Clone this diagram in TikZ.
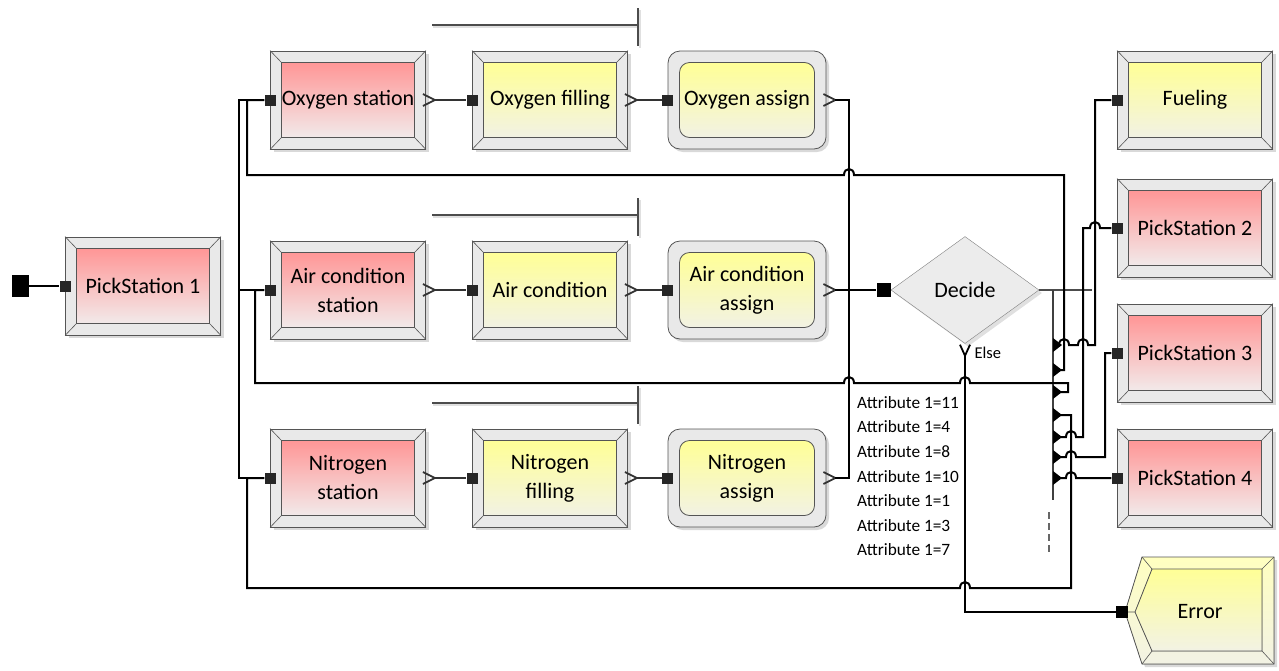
\documentclass[tikz,border=0pt]{standalone}
\usepackage{fontspec}
\setmainfont{Carlito}
\usetikzlibrary{shapes.geometric,shadows}
\definecolor{pinktop}{RGB}{255,150,150}
\definecolor{pinkbot}{RGB}{242,234,234}
\definecolor{yeltop}{RGB}{255,255,150}
\definecolor{yelbot}{RGB}{242,242,228}
\definecolor{frame}{RGB}{85,85,85}

\begin{document}
\begin{tikzpicture}[x=1pt, y=-1pt, font=\fontsize{22}{29}\selectfont,
  outerbox/.style={draw=frame, fill=gray!17, line width=0.8pt, minimum width=155pt, minimum height=98pt, inner sep=0pt,
    drop shadow={shadow xshift=3pt, shadow yshift=-3pt, fill=black!15, opacity=1}},
  innerbox/.style={draw=frame, line width=0.8pt, minimum width=133pt, minimum height=75pt, inner sep=0pt, align=center},
  pinkfill/.style={top color=pinktop, bottom color=pinkbot},
  yelfill/.style={top color=yeltop, bottom color=yelbot},
  bevel/.style={draw=frame, line width=0.6pt},
  entry/.style={fill=black!85, minimum size=11pt, inner sep=0pt},
  link/.style={line width=2pt},
  chev/.style={draw=black!80, line width=1.8pt},
  queue/.style={draw=black!70, line width=1.6pt}]
\useasboundingbox (0,0) rectangle (1279,670);

% modules with bevel
\foreach \nm/\cx/\cy/\col/\txt in {pka/143/286/pinkfill/PickStation 1, oxst/348/100/pinkfill/Oxygen station,
  oxfl/550/100/yelfill/Oxygen filling, acst/348/290/pinkfill/{Air condition\\station}, acfl/550/290/yelfill/Air condition,
  nist/348/478/pinkfill/{Nitrogen\\station}, nifl/550/478/yelfill/{Nitrogen\\filling}, fuel/1195/100/yelfill/Fueling,
  pkb/1195/228/pinkfill/PickStation 2, pkc/1195/353/pinkfill/PickStation 3, pkd/1195/478/pinkfill/PickStation 4}
{\node[outerbox] (\nm-o) at (\cx,\cy) {};
 \node[innerbox,\col] (\nm) at (\cx,\cy) {\txt};
 \foreach \a in {north west,north east,south east,south west}
   \draw[bevel] (\nm-o.\a) -- (\nm.\a);
 \node[entry] (\nm-in) at (\nm-o.west) {};}

% assign modules
\foreach \nm/\cy/\txt in {oxas/100/Oxygen assign, acas/290/{Air condition\\assign}, nias/478/{Nitrogen\\assign}}
{\node[outerbox, rounded corners=12pt, minimum width=158pt] (\nm-o) at (747,\cy) {};
 \node[innerbox, yelfill, rounded corners=10pt, minimum width=135pt] (\nm) at (747,\cy) {\txt};
 \node[entry] (\nm-in) at (\nm-o.west) {};}

% exits
\foreach \nm in {oxst,oxfl,oxas,acst,acfl,acas,nist,nifl,nias}
{\draw[chev] ([shift={(-3,-6)}]\nm-o.east) -- ([shift={(9,0)}]\nm-o.east) coordinate (\nm-out)
   -- ([shift={(-3,6)}]\nm-o.east);}

% queues
\foreach \cy in {100,290,478}
{\draw[black!12, line width=1.6pt] (433,\cy-73) -- (640,\cy-73) (640,\cy-90) -- (640,\cy-52);
 \draw[queue] (432,\cy-75) -- (638,\cy-75) (638,\cy-92) -- (638,\cy-54);}

\node[fill=black, minimum width=17pt, minimum height=22pt, inner sep=0pt] (src) at (20,286) {};
\draw[link] (src) -- (pka-in.west);

\draw[link, black!80] (oxst-out) -- (oxfl-in.west) (oxfl-out) -- (oxas-in.west)
  (acst-out) -- (acfl-in.west) (acfl-out) -- (acas-in.west)
  (nist-out) -- (nifl-in.west) (nifl-out) -- (nias-in.west);

\coordinate (split) at (239,290);
\draw[link] (oxst-in.west) -| (split) |- (nist-in.west) (split) -- (acst-in.west);

% decide
\node[diamond, draw=gray, fill=gray!15, minimum width=148pt, minimum height=107pt, inner sep=0pt,
  drop shadow={shadow xshift=3pt, shadow yshift=-3pt, fill=black!12, opacity=1}] (dec) at (965,290) {Decide};
\node[fill=black, minimum size=14pt, inner sep=0pt, anchor=east] (dec-in) at (dec.west) {};
\draw[chev, black] ([shift={(-5,1)}]dec.south) -- ([shift={(0,12)}]dec.south) coordinate (dec-else) -- ([shift={(5,1)}]dec.south);
\node[font=\fontsize{16.5}{18}\selectfont, anchor=west] (else) at ([shift={(6,9)}]dec.south) {Else};

\draw[link] (acas-out) -- (dec-in.west);
\draw[link] (oxas-out) -| (849,290);
\draw[link] (nias-out) -| (849,290);

\node[font=\fontsize{17.3}{24.6}\selectfont, align=left, anchor=north west, inner sep=0pt] (attr) at (857,396)
  {Attribute 1=11\\Attribute 1=4\\Attribute 1=8\\Attribute 1=10\\Attribute 1=1\\Attribute 1=3\\Attribute 1=7};

% exit stack
\draw[black!70, line width=1.2pt] (dec.east) -- (1092,290);
\draw[black!75, line width=1.4pt] (1053,290) -- (1053,500);
\draw[black!60, line width=1.4pt, dash pattern=on 7pt off 4pt] (1049,512) -- (1049,552);
\foreach \y [count=\i] in {345,370,392,415,437,457,478}
  \coordinate (ex\i) at (1056,\y);

% routes
\draw[link] (ex1) -- (1059,345) .. controls (1059,337) and (1069,337) .. (1069,345) -- (1078,345)
  .. controls (1078,337) and (1088,337) .. (1088,345) -- (1095,345) |- (fuel-in.west);
\draw[link] (ex2) -| (1064,175) -- (854,175) .. controls (854,167) and (844,167) .. (844,175)
  -- (247,175) |- (oxst-in.west);
\draw[link] (ex3) -| (1068,383) -- (970,383) .. controls (970,375) and (960,375) .. (960,383)
  -- (854,383) .. controls (854,375) and (844,375) .. (844,383) -- (255,383) |- (acst-in.west);
\draw[link] (ex4) -| (1071,588) -- (970,588) .. controls (970,580) and (960,580) .. (960,588)
  -- (247,588) |- (nist-in.west);
\draw[link] (ex5) -- (1066,437) .. controls (1066,429) and (1076,429) .. (1076,437) -- (1083,437)
  -- (1083,228) -- (1090,228) .. controls (1090,220) and (1100,220) .. (1100,228) -- (pkb-in.west);
\draw[link] (ex6) -- (1066,457) .. controls (1066,449) and (1076,449) .. (1076,457) -- (1105,457) |- (pkc-in.west);
\draw[link] (ex7) -- (1066,478) .. controls (1066,470) and (1076,470) .. (1076,478) -- (pkd-in.west);
\foreach \i in {1,...,7}
  \fill[black] ([shift={(-3,-7)}]ex\i) -- ([shift={(6,0)}]ex\i) -- ([shift={(-3,7)}]ex\i) -- cycle;

% error
\fill[black!15] (1128,615) -- (1145,560) -- (1277,560) -- (1277,667) -- (1145,667) -- cycle;
\filldraw[draw=frame, line width=0.8pt, top color=yeltop!60, bottom color=yelbot]
  (1125,612) -- (1142,557) -- (1274,557) -- (1274,664) -- (1142,664) -- cycle;
\filldraw[draw=frame, line width=0.8pt, top color=yeltop, bottom color=yelbot]
  (1135,612) -- (1152,569) -- (1262,569) -- (1262,651) -- (1152,651) -- cycle;
\draw[bevel] (1142,557) -- (1152,569) (1274,557) -- (1262,569) (1274,664) -- (1262,651)
  (1142,664) -- (1152,651) (1125,612) -- (1135,612);
\node (err) at (1200,612) {Error};
\node[fill=black, minimum size=12pt, inner sep=0pt] (err-in) at (1122,612) {};
\draw[link] (dec-else) |- (err-in.west);
\end{tikzpicture}
\end{document}
